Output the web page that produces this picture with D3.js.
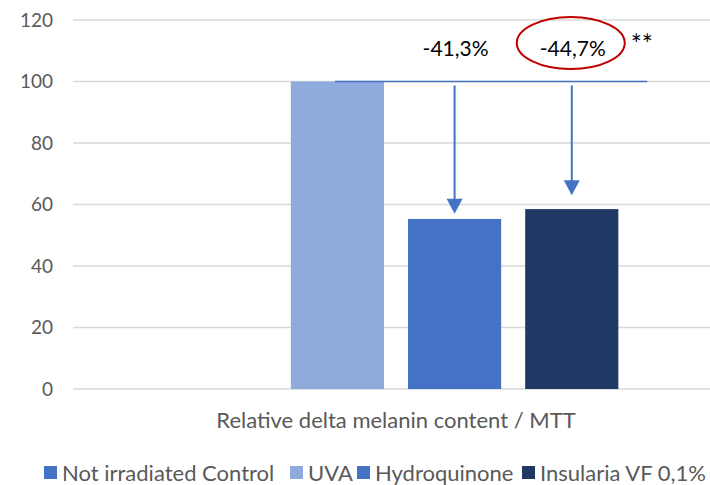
<!DOCTYPE html>
<html>
<head>
<meta charset="utf-8">
<script src="https://cdn.jsdelivr.net/npm/d3@7"></script>
<style>
  body { margin: 0; background: #fff; }
  text { font-family: Lato, "Open Sans", sans-serif; fill: #595959; }
</style>
</head>
<body>
<div class="chart"></div>
<script>
var svgWidth = 710;
var svgHeight = 485;

// Data
var category = ["Relative delta melanin content / MTT"];
var series = ["Not irradiated Control", "UVA", "Hydroquinone", "Insularia VF 0,1%"];
var values = [0, 100, 55.3, 58.5];
var colors = ["#4472C4", "#8FAADC", "#4472C4", "#203864"];
var yTicks = [0, 20, 40, 60, 80, 100, 120];

// annotations: reduction labels on treated bars
var annSeries = ["Hydroquinone", "Insularia VF 0,1%"];
var annLabels = ["-41,3%", "-44,7%"];
var annArrowEnd = [57, 63];

var margin = { top: 20, right: -9, bottom: 96, left: 73 };
var width = svgWidth - margin.left - margin.right;
var height = svgHeight - margin.top - margin.bottom;

var svg = d3.select(".chart").append("svg").attr("width", svgWidth).attr("height", svgHeight);
var chartGroup = svg.append("g").attr("transform", `translate(${margin.left}, ${margin.top})`);

var x0 = d3.scaleBand().domain(category).range([0, width]).paddingOuter(0.19);
var x1 = d3.scaleBand().domain(series).range([0, x0.bandwidth()]).paddingInner(0.205).paddingOuter(0.1);
var yScale = d3.scaleLinear().domain([0, 120]).range([height, 0]);

// gridlines
chartGroup.selectAll(".grid").data(yTicks).enter().append("line")
  .attr("x1", 0).attr("x2", width)
  .attr("y1", d => yScale(d)).attr("y2", d => yScale(d))
  .attr("stroke", "#D9D9D9").attr("stroke-width", 1.3);

// y axis labels
var leftAxis = d3.axisLeft(yScale).tickValues(yTicks).tickSize(0).tickPadding(20);
var yAxis = chartGroup.append("g").call(leftAxis);
yAxis.select(".domain").remove();
yAxis.selectAll("text").style("font-size", "19px").attr("fill", "#595959");

// bars
var group = chartGroup.append("g").attr("transform", `translate(${x0(category[0])}, 0)`);
group.selectAll("rect").data(series).enter().append("rect")
  .attr("x", d => x1(d))
  .attr("width", x1.bandwidth())
  .attr("y", (d, i) => yScale(values[i]))
  .attr("height", (d, i) => height - yScale(values[i]))
  .attr("fill", (d, i) => colors[i]);

// category label
chartGroup.append("text")
  .attr("x", x0(category[0]) + x0.bandwidth() / 2)
  .attr("y", height + 39)
  .attr("text-anchor", "middle")
  .style("font-size", "22px")
  .text(category[0]);

// annotations
var annColor = "#4472C4";
var lineX1 = x0(category[0]) + x1("UVA") + 44;
var lineX2 = x0(category[0]) + x1("Insularia VF 0,1%") + x1.bandwidth() + 29;
chartGroup.append("line")
  .attr("x1", lineX1).attr("x2", lineX2)
  .attr("y1", yScale(100)).attr("y2", yScale(100))
  .attr("stroke", annColor).attr("stroke-width", 1.5);

annSeries.forEach(function(s, i) {
  var cx = x0(category[0]) + x1(s) + x1.bandwidth() / 2;
  var yTop = yScale(100) + 4;
  var yTip = yScale(annArrowEnd[i]);
  chartGroup.append("line")
    .attr("x1", cx).attr("x2", cx)
    .attr("y1", yTop).attr("y2", yTip - 12)
    .attr("stroke", annColor).attr("stroke-width", 2);
  chartGroup.append("path")
    .attr("d", `M${cx - 8},${yTip - 15} L${cx + 8},${yTip - 15} L${cx},${yTip} Z`)
    .attr("fill", annColor);
  chartGroup.append("text")
    .attr("x", cx + 1)
    .attr("y", yScale(108.4))
    .attr("text-anchor", "middle")
    .style("font-size", "21px")
    .style("fill", "#000")
    .text(annLabels[i]);
});

// red ellipse around the best result
var ex = x0(category[0]) + x1("Insularia VF 0,1%") + x1.bandwidth() / 2 - 1;
chartGroup.append("ellipse")
  .attr("cx", ex).attr("cy", yScale(112.5))
  .attr("rx", 54).attr("ry", 26)
  .attr("fill", "none").attr("stroke", "#C00000").attr("stroke-width", 2);

chartGroup.append("text")
  .attr("x", ex + 60)
  .attr("y", yScale(109))
  .style("font-size", "26px")
  .style("fill", "#000")
  .text("**");

// legend
var legendX = [44, 290, 357, 522];
var legend = svg.append("g").attr("transform", "translate(0, 473)");
series.forEach(function(s, i) {
  var g = legend.append("g").attr("transform", `translate(${legendX[i]}, 0)`);
  g.append("rect").attr("x", 0).attr("y", -7).attr("width", 13).attr("height", 13).attr("fill", colors[i]);
  g.append("text").attr("x", 18).attr("y", 0).attr("dy", "0.35em").style("font-size", "22px").text(s);
});
</script>
</body>
</html>
